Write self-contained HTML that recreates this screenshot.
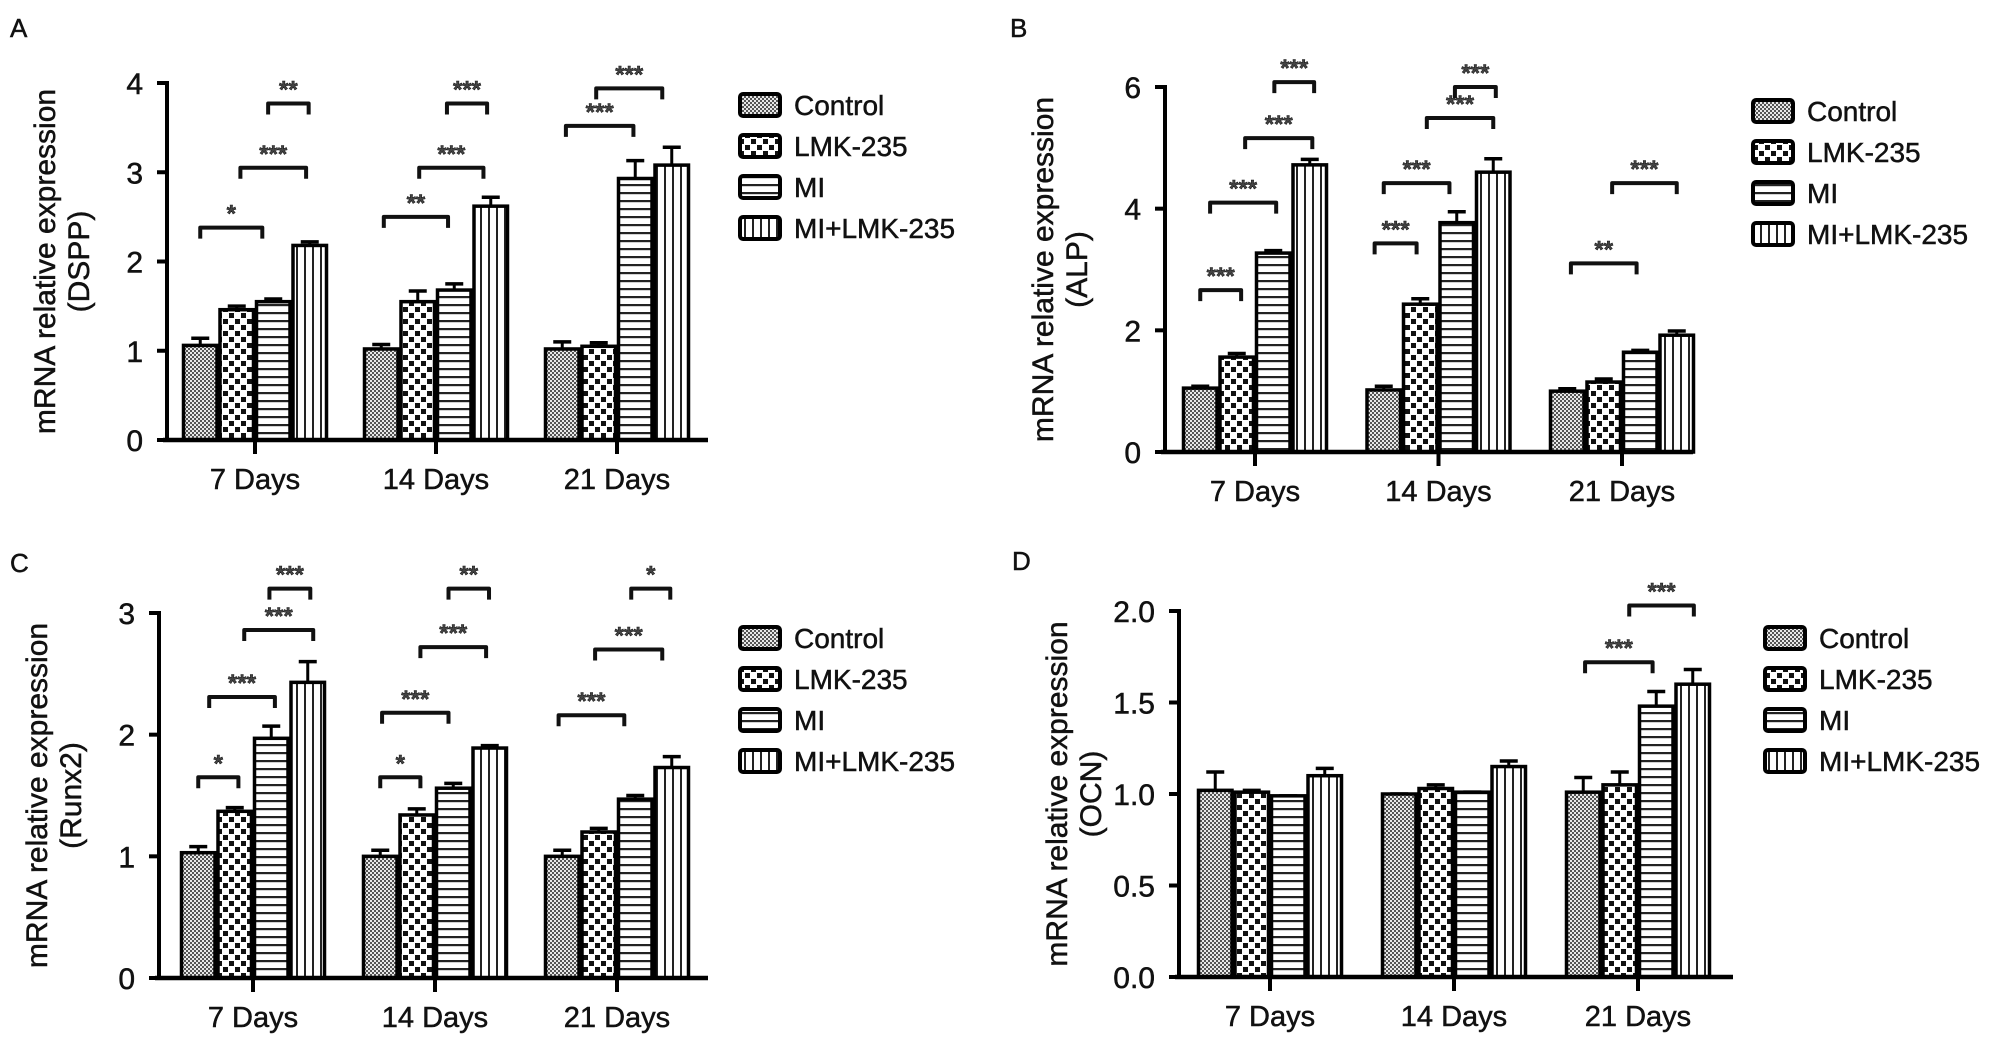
<!DOCTYPE html>
<html><head><meta charset="utf-8"><style>
html,body{margin:0;padding:0;background:#fff;}
svg{display:block;font-family:"Liberation Sans",Arial,sans-serif;}
svg text{stroke:#111;stroke-width:0.5;}
</style></head><body>
<svg id="fig" width="2008" height="1046" viewBox="0 0 2008 1046" xmlns="http://www.w3.org/2000/svg">
<defs>
<pattern id="pCtrl" width="4" height="4" patternUnits="userSpaceOnUse"><rect width="4" height="4" fill="#e8e8e8"/><rect x="0" y="0" width="2" height="2" fill="#555"/><rect x="2" y="2" width="2" height="2" fill="#555"/></pattern>
<pattern id="pLmk" width="12" height="12" patternUnits="userSpaceOnUse"><rect width="12" height="12" fill="#fff"/><rect x="1" y="1" width="5" height="5" fill="#111"/><rect x="7" y="7" width="5" height="5" fill="#111"/></pattern>
<pattern id="pMi" width="8" height="8" patternUnits="userSpaceOnUse"><rect width="8" height="8" fill="#fff"/><rect x="0" y="0" width="8" height="2.2" fill="#222"/></pattern>
<pattern id="pCombo" width="8" height="8" patternUnits="userSpaceOnUse"><rect width="8" height="8" fill="#fff"/><rect x="0" y="0" width="2" height="8" fill="#222"/></pattern>
</defs>
<g id="root"></g>
</svg>
<script>
// ---- data ----
const categories = ["7 Days","14 Days","21 Days"];
const seriesNames = ["Control","LMK-235","MI","MI+LMK-235"];
// Panel A (DSPP)
const dsppControl = [1.06,1.02,1.02];
const dsppLMK = [1.46,1.55,1.05];
const dsppMI = [1.55,1.68,2.93];
const dsppCombo = [2.18,2.62,3.08];
const dsppErrControl = [0.08,0.05,0.08];
const dsppErrLMK = [0.04,0.12,0.04];
const dsppErrMI = [0.03,0.07,0.2];
const dsppErrCombo = [0.04,0.1,0.2];
const dsppTicks = ["0","1","2","3","4"];
const dsppBrackets = [[0,0,1.7,2.38,"*"],[0,1.1,2.9,3.05,"***"],[0,1.86,2.97,3.77,"**"],[1,0.07,1.83,2.5,"**"],[1,1.04,2.8,3.05,"***"],[1,1.8,2.9,3.77,"***"],[2,0.1,1.95,3.52,"***"],[2,0.93,2.74,3.94,"***"]];
// Panel B (ALP)
const alpControl = [1.05,1.02,1.0];
const alpLMK = [1.56,2.43,1.15];
const alpMI = [3.27,3.77,1.64];
const alpCombo = [4.72,4.6,1.92];
const alpErrControl = [0.03,0.06,0.04];
const alpErrLMK = [0.06,0.09,0.05];
const alpErrMI = [0.04,0.18,0.03];
const alpErrCombo = [0.09,0.22,0.07];
const alpTicks = ["0","2","4","6"];
const alpBrackets = [[0,0,1.12,2.66,"***"],[0,0.27,2.08,4.1,"***"],[0,1.23,3.07,5.16,"***"],[0,2.03,3.12,6.08,"***"],[1,-0.25,0.9,3.43,"***"],[1,0,1.8,4.42,"***"],[1,1.18,3.0,5.49,"***"],[1,1.95,3.07,6.0,"***"],[2,0.1,1.9,3.1,"**"],[2,1.23,3.0,4.42,"***"]];
// Panel C (Runx2)
const runxControl = [1.03,1.0,1.0];
const runxLMK = [1.37,1.34,1.2];
const runxMI = [1.97,1.56,1.47];
const runxCombo = [2.43,1.89,1.73];
const runxErrControl = [0.05,0.05,0.05];
const runxErrLMK = [0.03,0.05,0.03];
const runxErrMI = [0.1,0.04,0.03];
const runxErrCombo = [0.17,0.02,0.09];
const runxTicks = ["0","1","2","3"];
const runxBrackets = [[0,0,1.1,1.65,"*"],[0,0.3,2.1,2.31,"***"],[0,1.26,3.15,2.86,"***"],[0,1.95,3.07,3.2,"***"],[1,0,1.1,1.65,"*"],[1,0.05,1.87,2.18,"***"],[1,1.1,2.9,2.72,"***"],[1,1.87,2.98,3.2,"**"],[2,-0.1,1.7,2.16,"***"],[2,0.9,2.74,2.7,"***"],[2,1.89,2.96,3.2,"*"]];
// Panel D (OCN)
const ocnControl = [1.02,1.0,1.01];
const ocnLMK = [1.01,1.03,1.05];
const ocnMI = [0.99,1.01,1.48];
const ocnCombo = [1.1,1.15,1.6];
const ocnErrControl = [0.1,0.0,0.08];
const ocnErrLMK = [0.01,0.02,0.07];
const ocnErrMI = [0.0,0.0,0.08];
const ocnErrCombo = [0.04,0.03,0.08];
const ocnTicks = ["0.0","0.5","1.0","1.5","2.0"];
const ocnBrackets = [[2,0.05,1.9,1.72,"***"],[2,1.26,3.03,2.03,"***"]];

// ---- layout ----
const NS = "http://www.w3.org/2000/svg";
const root = document.getElementById('root');
const fills = ["url(#pCtrl)","url(#pLmk)","url(#pMi)","url(#pCombo)"];
function mk(tag, attrs, parent, text){
  const e = document.createElementNS(NS, tag);
  for (const k in attrs) e.setAttribute(k, attrs[k]);
  if (text !== undefined) e.textContent = text;
  (parent||root).appendChild(e);
  return e;
}
function drawPanel(p){
  const g = mk('g', {});
  
  
  const yMax = parseFloat(p.ticks[p.ticks.length-1]);
  const yS = v => p.y0 - v/yMax*(p.y0 - p.yTop);
  const gx = i => p.x0 + p.firstOff + i*p.pitch;
  const bw = 36.5;
  const bx = (gi, si) => gx(gi) + (si - 2)*bw;
  const letter = mk('text', {x:p.lx, y:p.ly, 'font-size':26, fill:'#111'}, g, p.letter);
  
  
  const cy = (p.y0 + p.yTop)/2;
  const t1 = mk('text', {x:0, y:0, transform:`translate(${p.x0-112},${cy}) rotate(-90)`, 'text-anchor':'middle', 'font-size':30, fill:'#111'}, g, 'mRNA relative expression');
  
  
  const t2 = mk('text', {x:0, y:0, transform:`translate(${p.x0-78},${cy}) rotate(-90)`, 'text-anchor':'middle', 'font-size':30, fill:'#111'}, g, '(' + p.gene + ')');
  
  
  for (let s=0; s<4; s++){
    for (let i=0; i<categories.length; i++){
      const v = p.vals[s][i], e = p.errs[s][i];
      const x = bx(i, s), y = yS(v);
      const cx = x + bw/2;
      const el = mk('line', {x1:cx, x2:cx, y1:y, y2:yS(v+e), stroke:'#000', 'stroke-width':3}, g);
      
      
      const cap = mk('line', {x1:cx-9, x2:cx+9, y1:yS(v+e), y2:yS(v+e), stroke:'#000', 'stroke-width':3.5}, g);
      
      
      const r = mk('rect', {x:x+1.5, y:y, width:bw-3, height:p.y0-y, fill:fills[s], stroke:'#000', 'stroke-width':3.5}, g);
      
      
    }
  }
  const ya = mk('line', {x1:p.x0, x2:p.x0, y1:p.yTop-2, y2:p.y0+2, stroke:'#000', 'stroke-width':4}, g);
  
  
  const xa = mk('line', {x1:p.x0-4, x2:p.xEnd, y1:p.y0, y2:p.y0, stroke:'#000', 'stroke-width':4.5}, g);
  
  
  p.ticks.forEach(tl => {
    const y = yS(parseFloat(tl));
    const tk = mk('line', {x1:p.x0-10, x2:p.x0, y1:y, y2:y, stroke:'#000', 'stroke-width':4}, g);
    
    
    const tt = mk('text', {x:p.x0-24, y:y+11, 'text-anchor':'end', 'font-size':30, fill:'#111'}, g, tl);
    
    
  });
  categories.forEach((c, i) => {
    const tk = mk('line', {x1:gx(i), x2:gx(i), y1:p.y0, y2:p.y0+14, stroke:'#000', 'stroke-width':4}, g);
    
    
    const tt = mk('text', {x:gx(i), y:p.y0+49, 'text-anchor':'middle', 'font-size':29, fill:'#111'}, g, c);
    
    
  });
  p.brackets.forEach(b => {
    const x1 = gx(b[0]) - 1.5*bw + b[1]*bw, x2 = gx(b[0]) - 1.5*bw + b[2]*bw, y = yS(b[3]);
    const br = mk('path', {d:`M${x1},${y+11} L${x1},${y} L${x2},${y} L${x2},${y+11}`, fill:'none', stroke:'#111', 'stroke-width':4, 'stroke-linejoin':'round'}, g);
    
    
    const st = mk('text', {x:(x1+x2)/2, y:y-6, 'text-anchor':'middle', 'font-size':24, fill:'#444', 'font-weight':'bold'}, g, b[4]);
    
    
  });
  const lg = mk('g', {}, g);
  
  
  seriesNames.forEach((n, s) => {
    const y = p.legY + s*41;
    const sw = mk('rect', {x:p.legX+2, y:y-11, width:40, height:22, rx:3, fill:fills[s], stroke:'#000', 'stroke-width':4}, lg);
    
    
    const lt = mk('text', {x:p.legX+56, y:y+10, 'font-size':28, fill:'#111'}, lg, n);
    
    
  });
}
drawPanel({letter:'A', gene:'DSPP', lx:10, ly:37, x0:167, y0:440, yTop:83, xEnd:708, firstOff:88, pitch:181, ticks:dsppTicks,
  vals:[dsppControl,dsppLMK,dsppMI,dsppCombo], errs:[dsppErrControl,dsppErrLMK,dsppErrMI,dsppErrCombo], brackets:dsppBrackets, legX:738, legY:105});
drawPanel({letter:'B', gene:'ALP', lx:1010, ly:37, x0:1165, y0:452, yTop:87, xEnd:1693, firstOff:90, pitch:183.5, ticks:alpTicks,
  vals:[alpControl,alpLMK,alpMI,alpCombo], errs:[alpErrControl,alpErrLMK,alpErrMI,alpErrCombo], brackets:alpBrackets, legX:1751, legY:111});
drawPanel({letter:'C', gene:'Runx2', lx:10, ly:572, x0:159, y0:978, yTop:613, xEnd:708, firstOff:94, pitch:182, ticks:runxTicks,
  vals:[runxControl,runxLMK,runxMI,runxCombo], errs:[runxErrControl,runxErrLMK,runxErrMI,runxErrCombo], brackets:runxBrackets, legX:738, legY:638});
drawPanel({letter:'D', gene:'OCN', lx:1012, ly:570, x0:1179, y0:977, yTop:611, xEnd:1733, firstOff:91, pitch:184, ticks:ocnTicks,
  vals:[ocnControl,ocnLMK,ocnMI,ocnCombo], errs:[ocnErrControl,ocnErrLMK,ocnErrMI,ocnErrCombo], brackets:ocnBrackets, legX:1763, legY:638});
</script>
</body></html>
